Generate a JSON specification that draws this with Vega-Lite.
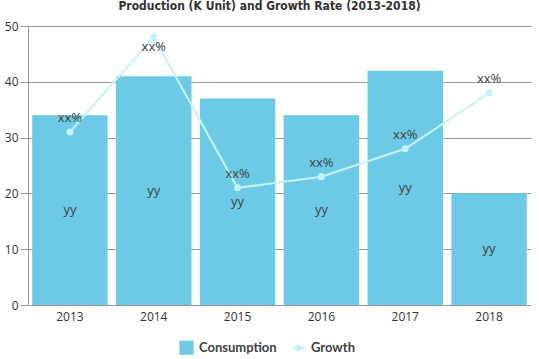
{
  "$schema": "https://vega.github.io/schema/vega-lite/v6.json",
  "width": 503,
  "height": 279,
  "autosize": {"type": "none"},
  "padding": {"left": 28, "top": 26, "right": 8, "bottom": 54},
  "background": "white",
  "title": {
    "text": "Production (K Unit) and Growth Rate (2013-2018)",
    "font": "DejaVu Sans Condensed",
    "fontWeight": "bold",
    "fontSize": 12,
    "color": "#333333",
    "anchor": "middle",
    "dx": -10,
    "offset": 7
  },
  "data": {
    "values": [
      {"Year": "2013", "Consumption": 34, "Growth": 31},
      {"Year": "2014", "Consumption": 41, "Growth": 48},
      {"Year": "2015", "Consumption": 37, "Growth": 21},
      {"Year": "2016", "Consumption": 34, "Growth": 23},
      {"Year": "2017", "Consumption": 42, "Growth": 28},
      {"Year": "2018", "Consumption": 20, "Growth": 38}
    ]
  },
  "encoding": {
    "x": {
      "field": "Year",
      "type": "ordinal",
      "title": null,
      "scale": {"paddingInner": 0.1, "paddingOuter": 0.05},
      "axis": {"labelAngle": 0, "ticks": false, "domain": false, "labelFontSize": 12, "labelColor": "#333333", "labelFont": "Open Sans", "labelPadding": 6}
    }
  },
  "layer": [
    {
      "mark": {"type": "bar", "color": "#6dcae6"},
      "encoding": {
        "y": {
          "field": "Consumption",
          "type": "quantitative",
          "title": null,
          "scale": {"domain": [0, 50]},
          "axis": {"tickCount": 5, "gridColor": "#999999", "domainColor": "#999999", "tickColor": "#999999", "labelFontSize": 12, "labelColor": "#333333", "labelFont": "Open Sans", "tickSize": 8, "labelPadding": 2}
        },
        "fill": {
          "datum": "Consumption",
          "type": "nominal",
          "scale": {"domain": ["Consumption", "Growth"], "range": ["#6dcae6", "#c4f2f7"]},
          "legend": {
            "title": null,
            "orient": "none",
            "direction": "horizontal",
            "legendX": 150,
            "legendY": 313,
            "symbolSize": 200,
            "symbolType": "square",
            "symbolOpacity": 1,
            "labelFontSize": 13,
            "labelFont": "Lato",
            "labelFontWeight": "bold",
            "labelColor": "#404040",
            "columnPadding": 10,
            "encode": {
              "symbols": {
                "update": {
                  "shape": {"signal": "datum.label === 'Growth' ? 'M-1,0L1,0M-0.35,0A0.35,0.35,0,1,0,0.35,0A0.35,0.35,0,1,0,-0.35,0Z' : 'square'"},
                  "stroke": {"signal": "datum.label === 'Growth' ? '#c4f2f7' : null"},
                  "strokeWidth": {"value": 2}
                }
              }
            }
          }
        }
      }
    },
    {
      "mark": {"type": "line", "color": "#c4f2f7", "strokeWidth": 2, "point": {"filled": true, "size": 50, "color": "#c4f2f7"}},
      "encoding": {
        "y": {"field": "Growth", "type": "quantitative"}
      }
    },
    {
      "mark": {"type": "text", "fontSize": 13, "font": "Open Sans", "color": "#404040", "baseline": "middle", "dy": {"expr": "datum.Year == '2014' ? 10 : -14"}},
      "encoding": {
        "y": {"field": "Growth", "type": "quantitative"},
        "text": {"value": "xx%"}
      }
    },
    {
      "mark": {"type": "text", "fontSize": 13, "font": "Open Sans", "color": "#404040", "baseline": "middle", "dy": {"expr": "(scale('y', 0) - scale('y', datum.Consumption)) / 2"}},
      "encoding": {
        "y": {"field": "Consumption", "type": "quantitative"},
        "text": {"value": "yy"}
      }
    }
  ],
  "config": {
    "view": {"stroke": null},
    "axis": {"gridColor": "#999999"}
  }
}
